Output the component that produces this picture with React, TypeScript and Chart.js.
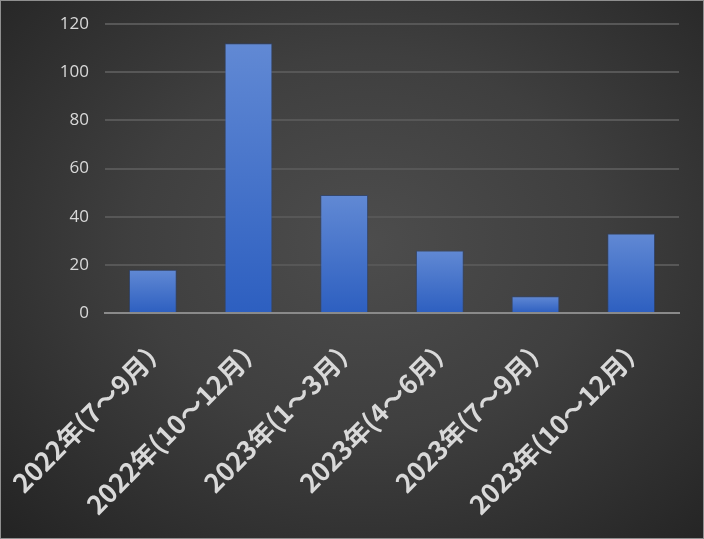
import React, { useEffect, useRef } from "react";
import { Chart, registerables } from "chart.js";

Chart.register(...registerables);

const categories = [
  "2022年(7～9月）",
  "2022年(10～12月）",
  "2023年(1～3月）",
  "2023年(4～6月）",
  "2023年(7～9月）",
  "2023年(10～12月）",
];
const values = [18, 112, 49, 26, 7, 33];
const yMin = 0;
const yMax = 120;
const yStep = 20;

export default function App() {
  const ref = useRef<HTMLCanvasElement | null>(null);

  useEffect(() => {
    if (!ref.current) return;
    const chart = new Chart(ref.current, {
      type: "bar",
      data: {
        labels: categories,
        datasets: [
          {
            data: values,
            backgroundColor: (ctx: any) => {
              const c = ctx.chart;
              const ys = c.scales && c.scales.y;
              if (!c.chartArea || !ys || ctx.raw == null) return "#4472c4";
              const top = ys.getPixelForValue(ctx.raw);
              const bottom = ys.getPixelForValue(0);
              if (!isFinite(top) || !isFinite(bottom) || top === bottom) return "#4472c4";
              const g = c.ctx.createLinearGradient(0, top, 0, bottom);
              g.addColorStop(0, "#6189d4");
              g.addColorStop(1, "#2d5fc0");
              return g;
            },
            borderColor: "rgba(40,70,130,0.6)",
            borderWidth: 1,
            borderSkipped: "bottom",
            barPercentage: 0.5,
            categoryPercentage: 1,
          },
        ],
      },
      options: {
        responsive: true,
        maintainAspectRatio: false,
        animation: false,
        layout: { padding: { top: 23, right: 24, left: 0, bottom: 0 } },
        plugins: { legend: { display: false }, tooltip: { enabled: false } },
        scales: {
          x: {
            grid: { display: false, drawTicks: false },
            border: { display: true, color: "#8a8a8a", width: 2 },
            ticks: {
              color: "#d9d9d9",
              font: { family: "'Noto Sans CJK JP', sans-serif", size: 26, weight: "bold" },
              minRotation: 45,
              maxRotation: 45,
              autoSkip: false,
              padding: 18,
              labelOffset: 10,
            },
            afterFit: (scale: any) => {
              scale.height = 225;
              scale.paddingLeft = 0;
              scale.paddingRight = 0;
            },
          },
          y: {
            min: yMin,
            max: yMax,
            grid: { color: "#575757", lineWidth: 2, drawTicks: false },
            border: { display: false },
            ticks: {
              stepSize: yStep,
              color: "#d9d9d9",
              font: { family: "'Open Sans', 'Noto Sans', sans-serif", size: 17 },
              padding: 16,
            },
            afterFit: (scale: any) => {
              scale.width = 104;
              scale.paddingTop = 0;
              scale.paddingBottom = 0;
            },
          },
        },
      },
    });
    return () => chart.destroy();
  }, []);

  return (
    <div
      style={{
        position: "absolute",
        left: 0,
        top: 0,
        width: 704,
        height: 539,
        boxSizing: "border-box",
        border: "1px solid #8f8f8f",
        background: "radial-gradient(ellipse farthest-corner at 52% 45%, #4d4d4d 0%, #3f3f3f 45%, #232323 100%)",
      }}
    >
      <canvas ref={ref} />
    </div>
  );
}
